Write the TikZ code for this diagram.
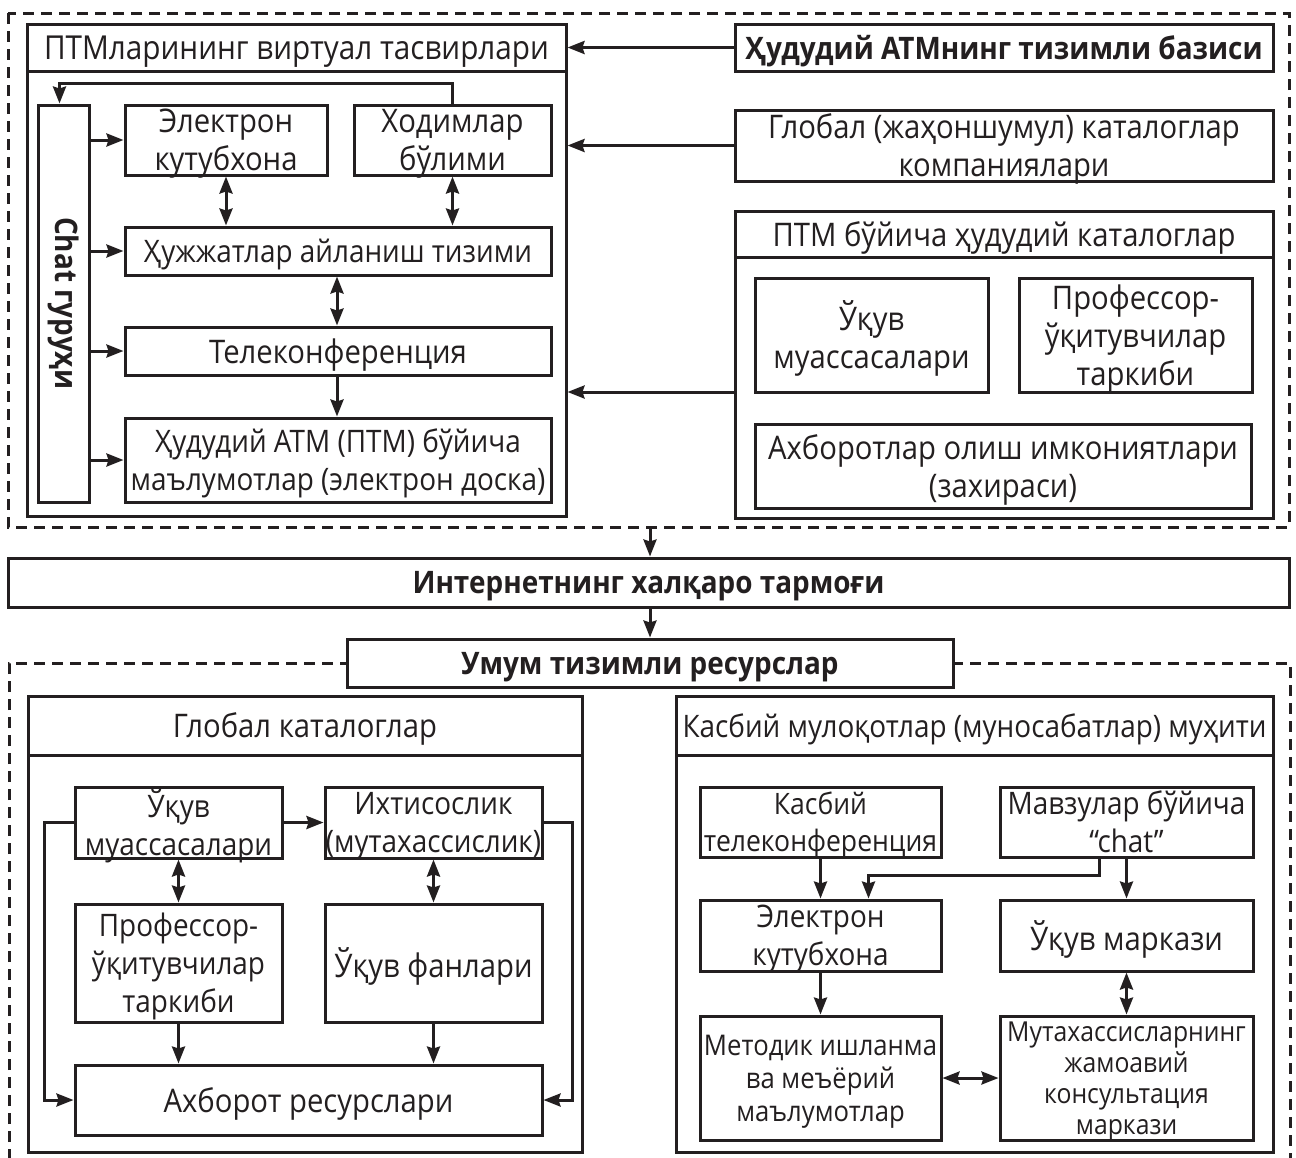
\documentclass[tikz,border=0pt]{standalone}
\usepackage{fontspec}
\usepackage{graphicx}
\setmainfont[FakeStretch=0.9]{Open Sans}
\usetikzlibrary{arrows.meta}
\definecolor{ink}{HTML}{231F20}
\newcommand\myfs{\fontsize{31}{38}\selectfont}
\newcommand\bigfs{\fontsize{32.5}{38}\selectfont}
\newcommand\Bx[7][]{\node[bx,minimum width={#5-#3},minimum height={#6-#4},#1] (#2) at ({(#3+#5)/2},{(#4+#6)/2}) {#7};}
\tikzset{
  bx/.style={draw=ink, line width=3pt, fill=white, inner sep=0pt, align=center, font=\myfs, text=ink, text depth=-3pt},
  big/.style={font=\bigfs},
  tip/.tip={Stealth[length=17pt,width=13pt,inset=2pt]},
  ar/.style={draw=ink, line width=3pt, -tip},
  dar/.style={draw=ink, line width=3pt, tip-tip},
  dsh/.style={draw=ink, line width=3pt, dash pattern=on 11pt off 7pt},
}
\begin{document}
\begin{tikzpicture}[x=1pt,y=-1pt]
\useasboundingbox (0,0) rectangle (1296,1157);
\clip (0,0) rectangle (1296,1157);
% ---------- top dashed area
\draw[dsh] (8,13) rectangle (1289,527);
\coordinate (dsb) at (650,527);
% left block
\Bx[font=\fontsize{33}{38}\selectfont]{vtop}{27}{24}{566}{71}{ПТМларининг виртуал тасвирлари}
\Bx{vbody}{27}{71}{566}{516}{}
\Bx[text depth={}]{chat}{38}{105}{89}{502}{\rotatebox{-90}{\bfseries Chat гуруҳи}}
\Bx[big]{ek}{125}{105}{327}{175}{Электрон\\кутубхона}
\Bx[big]{xb}{354}{105}{551}{175}{Ходимлар\\бўлими}
\Bx{hujj}{125}{227}{551}{275}{Ҳужжатлар айланиш тизими}
\Bx[big]{tele}{125}{327}{551}{375}{Телеконференция}
\Bx{hud}{125}{418}{551}{502}{Ҳудудий АТМ (ПТМ) бўйича\\маълумотлар (электрон доска)}
% right block
\Bx{hb}{735}{24}{1273}{71}{\bfseries Ҳудудий АТМнинг тизимли базиси}
\Bx[big]{gc}{735}{110}{1273}{181}{Глобал (жаҳоншумул) каталоглар\\компаниялари}
\Bx[big]{ptop}{735}{211}{1273}{257}{ПТМ бўйича ҳудудий каталоглар}
\Bx{pbody}{735}{257}{1273}{518}{}
\Bx[big]{uqm}{755}{278}{988}{392}{Ўқув\\муассасалари}
\Bx[big]{prof}{1019}{278}{1252}{392}{Профессор-\\ўқитувчилар\\таркиби}
\Bx[big]{axb}{755}{424}{1251}{508}{Ахборотлар олиш имкониятлари\\(захираси)}
% top connectors
\draw[ar] (xb.north) -- (xb.north |- 0,83) -| ([xshift=-4]chat.north);
\foreach \t in {ek,hujj,tele,hud}{\draw[ar] (chat.east |- \t.west) -- (\t.west);}
\draw[dar] (ek.south) -- (ek.south |- hujj.north);
\draw[dar] (xb.south) -- (xb.south |- hujj.north);
\draw[dar] ([xshift=-1]hujj.south) -- ([xshift=-1]tele.north);
\draw[ar] ([xshift=-1]tele.south) -- ([xshift=-1]hud.north);
\draw[ar] (hb.west) -- (hb.west -| vbody.east);
\draw[ar] (gc.west) -- (gc.west -| vbody.east);
\draw[ar] (pbody.west |- 0,392) -- (vbody.east |- 0,392);
% ---------- middle
\Bx[font=\myfs\bfseries]{inet}{8}{558}{1289}{607}{Интернетнинг халқаро тармоғи}
\draw[ar] (dsb) -- (dsb |- inet.north);
% ---------- bottom dashed area
\draw[dsh] (9,1160) -- (9,663) -- (1290,663) -- (1290,1160);
\Bx[font=\myfs\bfseries]{umum}{347}{639}{953}{687}{Умум тизимли ресурслар}
\draw[ar] (umum.north |- inet.south) -- (umum.north);
% bottom left
\Bx[big]{gtop}{28}{696}{582}{755}{Глобал каталоглар}
\Bx{gbody}{28}{755}{582}{1152}{}
\Bx{uq2}{75}{787}{282}{858}{Ўқув\\муассасалари}
\Bx{ix}{325}{787}{542}{858}{Ихтисослик\\(мутахассислик)}
\Bx{prof2}{75}{904}{282}{1022}{Профессор-\\ўқитувчилар\\таркиби}
\Bx[big]{uf}{325}{904}{542}{1022}{Ўқув фанлари}
\Bx[big]{axr}{75}{1065}{542}{1135}{Ахборот ресурслари}
\draw[ar] (uq2.east) -- (ix.west);
\draw[dar] (uq2.south) -- (prof2.north);
\draw[dar] (ix.south) -- (uf.north);
\draw[ar] (prof2.south) -- (prof2.south |- axr.north);
\draw[ar] (uf.south) -- (uf.south |- axr.north);
\draw[ar] (uq2.west) -- ++(-29,0) |- (axr.west);
\draw[ar] (ix.east) -- ++(29,0) |- (axr.east);
% bottom right
\Bx{ktop}{676}{696}{1273}{755}{Касбий мулоқотлар (муносабатлар) муҳити}
\Bx{kbody}{676}{755}{1273}{1152}{}
\Bx[font=\fontsize{29.5}{37}\selectfont]{kt}{700}{787}{941}{857}{Касбий\\телеконференция}
\Bx{mv}{1000}{787}{1253}{857}{Мавзулар бўйича\\“chat”}
\Bx{ek2}{700}{900}{941}{971}{Электрон\\кутубхона}
\Bx[big]{um}{1000}{900}{1253}{971}{Ўқув маркази}
\Bx[font=\fontsize{28.5}{33}\selectfont]{md}{700}{1016}{941}{1140}{Методик ишланма\\ва меъёрий\\маълумотлар}
\Bx[font=\fontsize{27.5}{31}\selectfont]{mt}{1000}{1016}{1253}{1140}{Мутахассисларнинг\\жамоавий\\консультация\\маркази}
\draw[ar] (kt.south) -- (ek2.north);
\draw[ar] ([xshift=-27]mv.south) -- ++(0,17) -| ([xshift=48]ek2.north);
\draw[ar] (mv.south) -- (um.north);
\draw[ar] (ek2.south) -- (md.north);
\draw[dar] (um.south) -- (mt.north);
\draw[dar] (md.east) -- (mt.west);
\end{tikzpicture}
\end{document}
